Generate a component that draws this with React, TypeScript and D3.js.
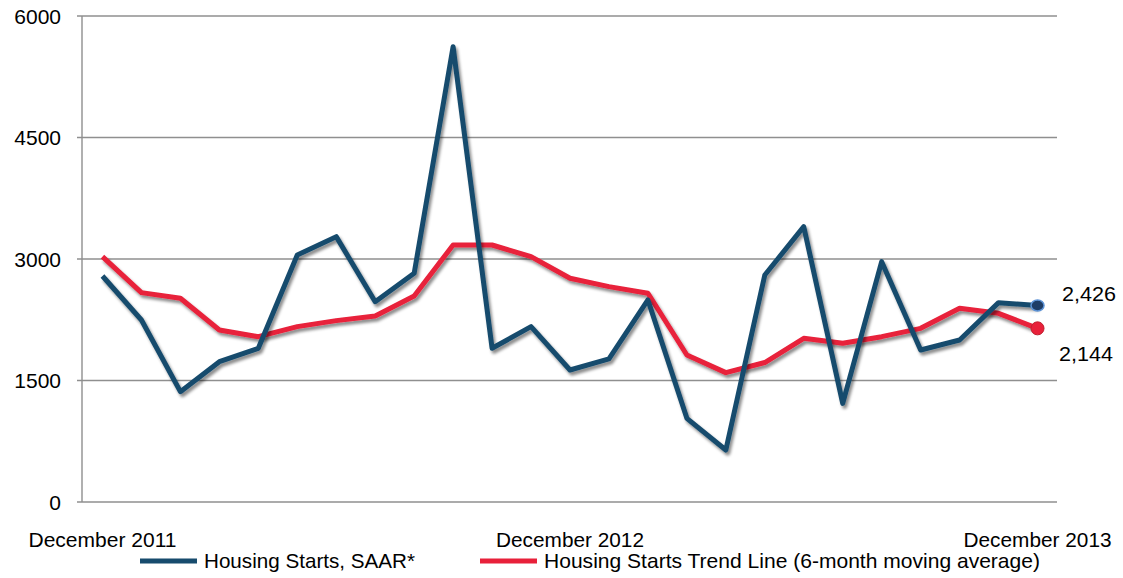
import * as d3 from "d3";

const months = [
  "2011-12", "2012-01", "2012-02", "2012-03", "2012-04", "2012-05", "2012-06",
  "2012-07", "2012-08", "2012-09", "2012-10", "2012-11", "2012-12", "2013-01",
  "2013-02", "2013-03", "2013-04", "2013-05", "2013-06", "2013-07", "2013-08",
  "2013-09", "2013-10", "2013-11", "2013-12",
];

const starts = [
  2790, 2247, 1362, 1732, 1898, 3050, 3276, 2473, 2823, 5621, 1898, 2165, 1630,
  1766, 2494, 1033, 642, 2803, 3399, 1218, 2967, 1877, 2000, 2461, 2426,
];

const trend = [
  3029, 2585, 2515, 2124, 2041, 2165, 2239, 2296, 2543, 3173, 3173, 3029, 2762,
  2659, 2577, 1815, 1597, 1722, 2021, 1959, 2041, 2144, 2391, 2329, 2144,
];

const yTicks = [0, 1500, 3000, 4500, 6000];
const xLabels = [
  { idx: 0, text: "December 2011" },
  { idx: 12, text: "December 2012" },
  { idx: 24, text: "December 2013" },
];

const BLUE = "#174b6d";
const RED = "#e8203a";
const GRID = "#8f8f8f";
const FONT = "'Liberation Sans', Arial, sans-serif";

export default function App() {
  const W = 1123;
  const H = 578;
  const left = 82;
  const right = 1057;
  const top = 16;
  const bottom = 502;

  const x = d3
    .scalePoint<number>()
    .domain(months.map((_, i) => i))
    .range([left + 1, right])
    .padding(0.5);
  const y = d3.scaleLinear().domain([0, 6000]).range([bottom, top]);

  const line = d3
    .line<number>()
    .x((_, i) => x(i) as number)
    .y((d) => y(d));

  const last = months.length - 1;

  return (
    <svg
      width={W}
      height={H}
      style={{ position: "absolute", left: 0, top: 0, background: "#fff" }}
      fontFamily={FONT}
    >
      <defs>
        <filter id="shadow" x="-10%" y="-10%" width="120%" height="130%">
          <feDropShadow dx="2" dy="3" stdDeviation="1.8" floodColor="#000" floodOpacity="0.45" />
        </filter>
      </defs>

      {/* gridlines + y ticks */}
      {yTicks.map((t) => (
        <g key={t}>
          <line x1={left - 5} x2={right} y1={y(t)} y2={y(t)} stroke={GRID} strokeWidth={1.4} />
          <text x={61} y={y(t)} dy="0.36em" textAnchor="end" fontSize={21} fill="#000">
            {t}
          </text>
        </g>
      ))}
      <line x1={left} x2={left} y1={top} y2={bottom} stroke={GRID} strokeWidth={1.4} />

      {/* x labels */}
      {xLabels.map((l) => (
        <text
          key={l.text}
          x={(x(l.idx) as number) - 74}
          y={547}
          fontSize={21}
          textLength={148}
          lengthAdjust="spacingAndGlyphs"
          fill="#000"
        >
          {l.text}
        </text>
      ))}

      {/* series */}
      <path d={line(trend) ?? ""} fill="none" stroke={RED} strokeWidth={5} strokeLinejoin="round" filter="url(#shadow)" />
      <path d={line(starts) ?? ""} fill="none" stroke={BLUE} strokeWidth={5} strokeLinejoin="round" filter="url(#shadow)" />

      {/* end markers */}
      <ellipse cx={x(last)} cy={y(starts[last])} rx={6.5} ry={5.5} fill="#1e3d66" stroke="#5d93d6" strokeWidth={1.5} />
      <circle cx={x(last)} cy={y(trend[last])} r={6.5} fill={RED} stroke="#c02030" strokeWidth={1} />
      <text x={1062} y={y(starts[last]) - 12} dy="0.36em" fontSize={21} textLength={54} lengthAdjust="spacingAndGlyphs" fill="#000">
        {d3.format(",")(starts[last])}
      </text>
      <text x={1059} y={y(trend[last]) + 25} dy="0.36em" fontSize={21} textLength={54} lengthAdjust="spacingAndGlyphs" fill="#000">
        {d3.format(",")(trend[last])}
      </text>

      {/* legend */}
      <line x1={140} x2={197} y1={561} y2={561} stroke={BLUE} strokeWidth={5} />
      <text x={204} y={568} fontSize={21} fill="#000" textLength={211} lengthAdjust="spacingAndGlyphs">
        Housing Starts, SAAR*
      </text>
      <line x1={480} x2={537} y1={561} y2={561} stroke={RED} strokeWidth={5} />
      <text x={544} y={568} fontSize={21} fill="#000" textLength={496} lengthAdjust="spacingAndGlyphs">
        Housing Starts Trend Line (6-month moving average)
      </text>
    </svg>
  );
}
